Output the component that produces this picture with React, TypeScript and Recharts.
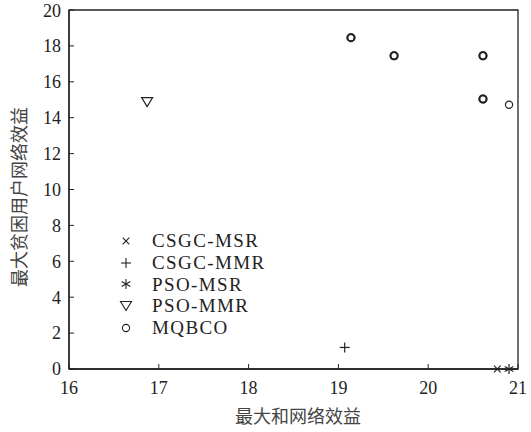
import React from 'react';
import { ScatterChart, Scatter, XAxis, YAxis, ReferenceArea, Legend } from 'recharts';

// values
const csgcMsr = [{ x: 20.77, y: 0 }];
const csgcMmr = [{ x: 19.07, y: 1.2 }];
const psoMsr = [{ x: 20.9, y: 0 }];
const psoMmr = [{ x: 16.87, y: 14.87 }];
const mqbco = [
  { x: 19.14, y: 18.46 },
  { x: 19.14, y: 18.46 },
  { x: 19.62, y: 17.45 },
  { x: 19.62, y: 17.45 },
  { x: 20.61, y: 17.45 },
  { x: 20.61, y: 17.45 },
  { x: 20.61, y: 15.04 },
  { x: 20.61, y: 15.04 },
  { x: 20.9, y: 14.72 },
];

const xTicks = [16, 17, 18, 19, 20, 21];
const yTicks = [0, 2, 4, 6, 8, 10, 12, 14, 16, 18, 20];
const seriesNames = ['CSGC-MSR', 'CSGC-MMR', 'PSO-MSR', 'PSO-MMR', 'MQBCO'];
const markerTypes = ['x', 'plus', 'star', 'tri', 'o'];

const INK = '#222';
const SERIF = '"Liberation Serif", "DejaVu Serif", serif';
const CJK = '"Noto Sans CJK SC", sans-serif';

function Marker({ type, cx, cy, sw = 1.1 }: { type: string; cx: number; cy: number; sw?: number }) {
  const p = { stroke: INK, strokeWidth: sw, fill: 'none' };
  if (type === 'x') {
    const r = 3.3;
    return (
      <g {...p}>
        <line x1={cx - r} y1={cy - r} x2={cx + r} y2={cy + r} />
        <line x1={cx - r} y1={cy + r} x2={cx + r} y2={cy - r} />
      </g>
    );
  }
  if (type === 'plus') {
    const r = 5;
    return (
      <g {...p}>
        <line x1={cx - r} y1={cy} x2={cx + r} y2={cy} />
        <line x1={cx} y1={cy - r} x2={cx} y2={cy + r} />
      </g>
    );
  }
  if (type === 'star') {
    const r = 5;
    const dx = r * Math.cos(Math.PI / 6);
    const dy = r * Math.sin(Math.PI / 6);
    return (
      <g {...p}>
        <line x1={cx} y1={cy - r} x2={cx} y2={cy + r} />
        <line x1={cx - dx} y1={cy - dy} x2={cx + dx} y2={cy + dy} />
        <line x1={cx - dx} y1={cy + dy} x2={cx + dx} y2={cy - dy} />
      </g>
    );
  }
  if (type === 'tri') {
    return (
      <polygon
        {...p}
        points={`${cx - 5.5},${cy - 4.5} ${cx + 5.5},${cy - 4.5} ${cx},${cy + 4.5}`}
      />
    );
  }
  return <circle {...p} cx={cx} cy={cy} r={3.6} />;
}

// overlapping results make the marker look heavier
const shapeFor = (type: string, data: { x: number; y: number }[]) => (props: any) => {
  const n = data.filter(d => d.x === props.payload?.x && d.y === props.payload?.y).length;
  return <Marker type={type} cx={props.cx} cy={props.cy} sw={n > 1 ? 1.8 : 1.2} />;
};

function LegendBox() {
  return (
    <div style={{ fontFamily: SERIF, fontSize: 19, color: INK }}>
      {seriesNames.map((name, i) => (
        <div key={name} style={{ display: 'flex', alignItems: 'center', height: 21.8 }}>
          <svg width={22} height={14} style={{ marginRight: 14 }}>
            <Marker type={markerTypes[i]} cx={10} cy={7} />
          </svg>
          <span style={{ letterSpacing: 1.4 }}>{name}</span>
        </div>
      ))}
    </div>
  );
}

const tickStyle = { fontFamily: SERIF, fontSize: 18, fill: INK };

export default function App() {
  return (
    <div style={{ position: 'absolute', left: 0, top: 0, background: '#fff' }}>
      <ScatterChart width={531} height={432} margin={{ top: 10, right: 13, left: 0, bottom: 0 }}>
        <XAxis
          type="number"
          dataKey="x"
          domain={[16, 21]}
          ticks={xTicks}
          height={63}
          axisLine={{ stroke: INK, strokeWidth: 1.3 }}
          tickLine={{ stroke: INK, strokeWidth: 1 }}
          tickSize={-5}
          tickMargin={17}
          tick={tickStyle}
        />
        <YAxis
          type="number"
          dataKey="y"
          domain={[0, 20]}
          ticks={yTicks}
          width={69}
          axisLine={{ stroke: INK, strokeWidth: 1.3 }}
          tickLine={{ stroke: INK, strokeWidth: 1 }}
          tickSize={-5}
          tickMargin={13}
          tick={tickStyle}
        />
        <ReferenceArea x1={16} x2={21} y1={0} y2={20} fill="none" stroke={INK} strokeWidth={1.3} />
        <Scatter name={seriesNames[0]} data={csgcMsr} shape={shapeFor('x', csgcMsr)} isAnimationActive={false} />
        <Scatter name={seriesNames[1]} data={csgcMmr} shape={shapeFor('plus', csgcMmr)} isAnimationActive={false} />
        <Scatter name={seriesNames[2]} data={psoMsr} shape={shapeFor('star', psoMsr)} isAnimationActive={false} />
        <Scatter name={seriesNames[3]} data={psoMmr} shape={shapeFor('tri', psoMmr)} isAnimationActive={false} />
        <Scatter name={seriesNames[4]} data={mqbco} shape={shapeFor('o', mqbco)} isAnimationActive={false} />
        <Legend
          layout="vertical"
          align="center"
          verticalAlign="middle"
          content={() => <LegendBox />}
          wrapperStyle={{ left: 116, top: 230, width: 220 }}
        />
        <text x={298} y={423} textAnchor="middle" fontFamily={CJK} fontSize={18} fill="#444">
          最大和网络效益
        </text>
        <text
          transform="translate(18, 197) rotate(-90)"
          textAnchor="middle"
          dominantBaseline="central"
          fontFamily={CJK}
          fontSize={18}
          fill="#444"
        >
          最大贫困用户网络效益
        </text>
      </ScatterChart>
    </div>
  );
}
